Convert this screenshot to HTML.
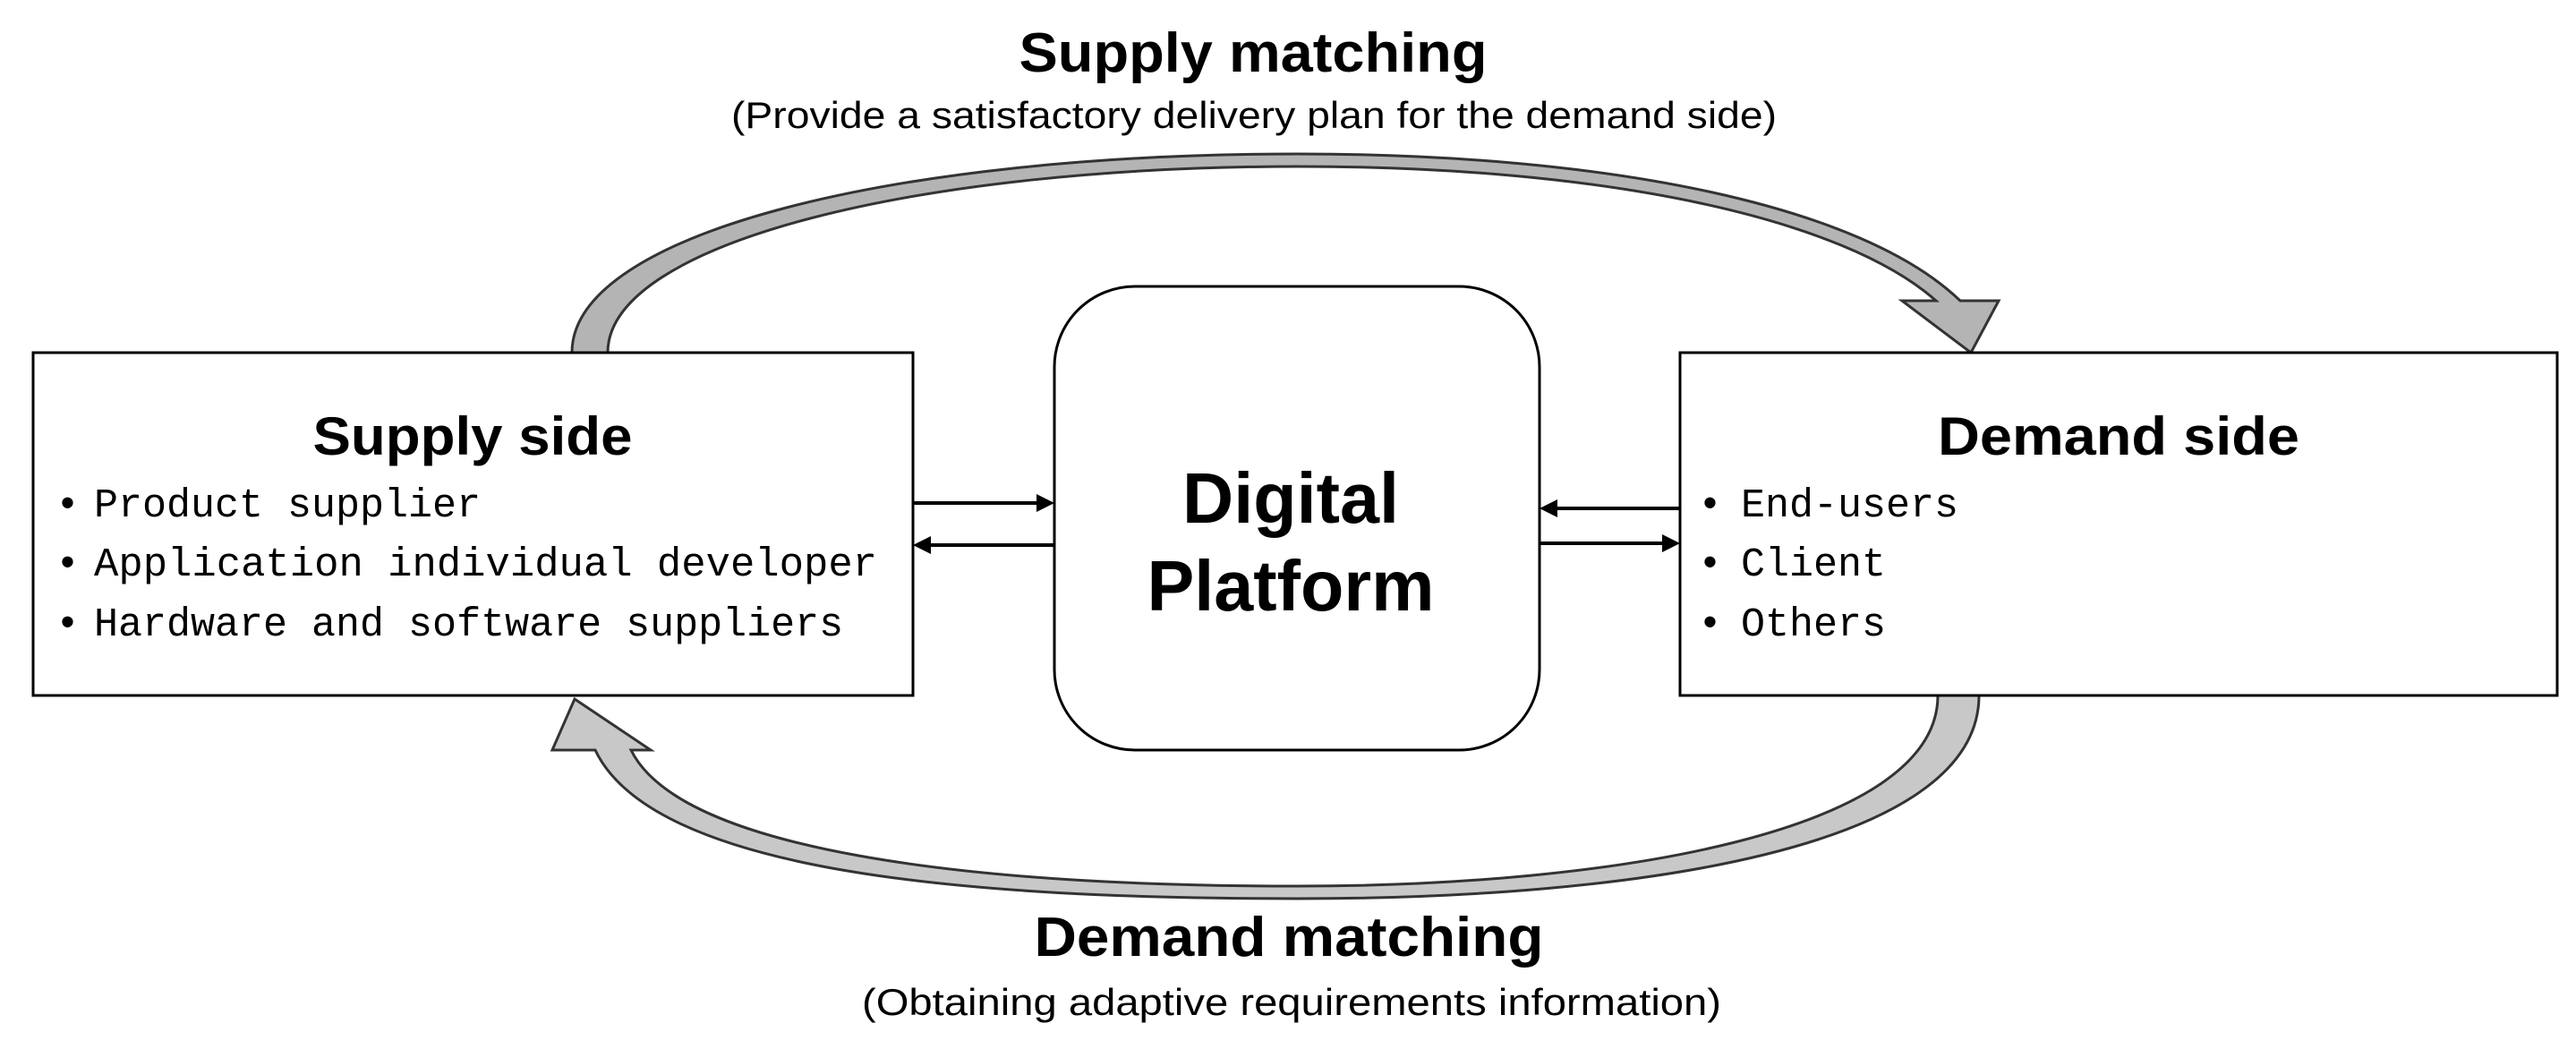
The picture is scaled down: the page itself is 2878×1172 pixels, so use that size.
<!DOCTYPE html>
<html><head><meta charset="utf-8"><style>html,body{margin:0;padding:0;background:#fff}svg{display:block}</style></head>
<body>
<svg width="2878" height="1172" viewBox="0 0 2878 1172" xmlns="http://www.w3.org/2000/svg">
<!-- top curved arrow -->
<path d="M639,394 C 639,260 1000,172 1450,172 C 1800,172 2080,230 2190,336 L2233,336 L2202,394 L2125,336 L2163,336 C 2060,245 1800,186 1450,186 C 1030,186 679,270 679,394 Z" fill="#b4b4b4" stroke="#333" stroke-width="3"/>
<!-- bottom curved arrow -->
<path d="M2165,777 C 2165,930 1800,990 1450,990 C 1080,990 760,950 705,838 L727,838 L642,781 L617,838 L665,838 C 730,975 1080,1004 1450,1004 C 1820,1004 2211,950 2211,777 Z" fill="#c8c8c8" stroke="#333" stroke-width="3"/>
<!-- boxes -->
<rect x="37" y="394" width="983" height="383" fill="#fff" stroke="#000" stroke-width="3"/>
<rect x="1877" y="394" width="980" height="383" fill="#fff" stroke="#000" stroke-width="3"/>
<rect x="1178" y="320" width="542" height="518" rx="90" ry="90" fill="#fff" stroke="#000" stroke-width="3"/>
<!-- small arrows -->
<g stroke="#000" stroke-width="4">
<line x1="1020" y1="562" x2="1162" y2="562"/>
<line x1="1178" y1="609" x2="1036" y2="609"/>
<line x1="1877" y1="568" x2="1736" y2="568"/>
<line x1="1720" y1="607" x2="1861" y2="607"/>
</g>
<g fill="#000">
<polygon points="1178,562 1158,552 1158,572"/>
<polygon points="1020,609 1040,599 1040,619"/>
<polygon points="1720,568 1740,558 1740,578"/>
<polygon points="1877,607 1857,597 1857,617"/>
</g>
<g font-family="Liberation Sans, sans-serif" fill="#000" text-anchor="middle">
<text x="1400" y="80" font-size="62" font-weight="bold" textLength="523" lengthAdjust="spacingAndGlyphs">Supply matching</text>
<text x="1401" y="143" font-size="42" textLength="1168" lengthAdjust="spacingAndGlyphs">(Provide a satisfactory delivery plan for the demand side)</text>
<text x="1440" y="1068" font-size="62" font-weight="bold" textLength="569" lengthAdjust="spacingAndGlyphs">Demand matching</text>
<text x="1443" y="1134" font-size="42" textLength="960" lengthAdjust="spacingAndGlyphs">(Obtaining adaptive requirements information)</text>
<text x="528" y="508" font-size="60" font-weight="bold" textLength="357" lengthAdjust="spacingAndGlyphs">Supply side</text>
<text x="2367" y="508" font-size="60" font-weight="bold" textLength="404" lengthAdjust="spacingAndGlyphs">Demand side</text>
<text x="1442" y="584" font-size="80" font-weight="bold" textLength="242" lengthAdjust="spacingAndGlyphs">Digital</text>
<text x="1442" y="682" font-size="80" font-weight="bold" textLength="321" lengthAdjust="spacingAndGlyphs">Platform</text>
</g>
<g font-family="Liberation Mono, monospace" font-size="45" fill="#000">
<text x="62" y="577">•</text><text x="105" y="577">Product supplier</text>
<text x="62" y="643">•</text><text x="105" y="643" textLength="875" lengthAdjust="spacingAndGlyphs">Application individual developer</text>
<text x="62" y="710">•</text><text x="105" y="710">Hardware and software suppliers</text>
<text x="1897" y="577">•</text><text x="1945" y="577">End-users</text>
<text x="1897" y="643">•</text><text x="1945" y="643">Client</text>
<text x="1897" y="710">•</text><text x="1945" y="710">Others</text>
</g>
</svg>
</body></html>
